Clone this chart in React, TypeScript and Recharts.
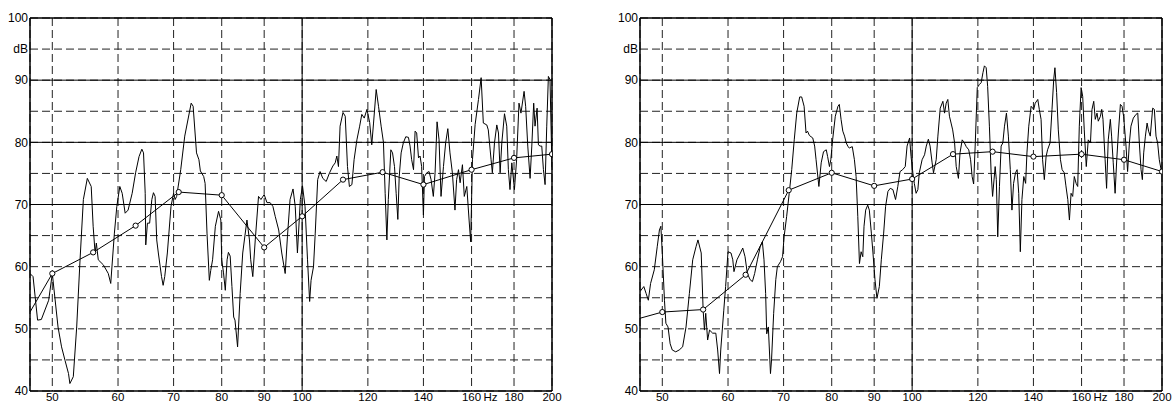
import { LineChart, Line, XAxis, YAxis, CartesianGrid, ReferenceLine } from 'recharts';

// narrow-band spectrum, left measurement [Hz, dB]
const leftSpectrum: [number, number][] = [
  [47.0, 58.9], [47.4, 58.4], [48.0, 51.4], [48.5, 51.5], [49.5, 54.6], [50.0, 58.9], [50.8, 50.3],
  [51.3, 47.1], [51.8, 44.9], [52.3, 42.8], [52.5, 41.2], [53.0, 42.3], [53.5, 50.3], [54.0, 61.1],
  [54.5, 70.8], [55.1, 74.2], [55.7, 72.9], [56.0, 66.5], [56.3, 62.2], [56.5, 63.8], [56.8, 61.1],
  [57.6, 60.3], [58.4, 58.9], [58.8, 57.3], [59.4, 65.4], [59.8, 69.7], [60.3, 72.9], [60.7, 71.8],
  [61.2, 68.6], [61.7, 69.1], [62.4, 71.8], [63.0, 75.1], [63.6, 77.7], [64.1, 78.9], [64.4, 78.3],
  [64.7, 71.8], [64.8, 63.5], [65.1, 67.0], [65.5, 67.0], [65.9, 70.8], [66.2, 71.9], [66.5, 71.3],
  [66.8, 64.3], [67.1, 62.2], [67.7, 58.4], [68.0, 57.0], [68.3, 58.4], [68.8, 62.2], [69.5, 69.7],
  [70.0, 71.8], [70.3, 70.8], [70.6, 71.3], [71.4, 75.6], [72.2, 81.0], [73.5, 86.3], [73.9, 85.8],
  [74.6, 78.3], [75.1, 77.2], [75.4, 75.4], [76.1, 74.5], [76.4, 73.4], [76.8, 65.4], [77.3, 57.8],
  [77.6, 59.4], [78.0, 61.1], [78.6, 66.5], [79.3, 68.9], [79.8, 67.5], [80.0, 61.1], [80.4, 59.0],
  [80.8, 56.2], [81.2, 61.1], [81.5, 62.3], [81.9, 61.7], [82.3, 56.8], [82.7, 51.9], [83.0, 51.4],
  [83.6, 47.1], [84.2, 55.7], [84.8, 62.2], [85.8, 67.5], [86.4, 64.3], [86.7, 61.1], [87.2, 58.4],
  [87.8, 64.3], [88.6, 71.3], [89.2, 70.8], [90.0, 71.6], [90.7, 70.3], [91.5, 70.3], [92.2, 69.7],
  [92.8, 68.1], [93.7, 65.9], [94.5, 62.2], [95.4, 58.9], [96.0, 64.8], [96.7, 70.8], [97.5, 72.5],
  [98.1, 69.7], [98.7, 62.2], [99.5, 70.8], [100.1, 73.0], [100.8, 69.7], [101.5, 61.1], [102.1, 54.4],
  [102.5, 57.8], [103.2, 60.0], [103.7, 65.4], [104.4, 74.0], [105.1, 75.3], [105.9, 74.2], [106.9, 73.7],
  [107.9, 75.1], [108.9, 76.2], [109.6, 76.7], [110.1, 77.8], [110.6, 76.1], [111.1, 82.6], [112.0, 84.8],
  [112.7, 84.2], [113.4, 76.1], [114.0, 72.9], [114.8, 73.2], [115.5, 77.2], [116.4, 80.4], [117.3, 82.6],
  [118.0, 84.5], [118.8, 83.9], [119.7, 85.3], [120.6, 83.2], [121.3, 79.6], [121.9, 83.1], [122.8, 88.5],
  [123.6, 85.8], [124.5, 82.6], [125.3, 80.0], [125.9, 71.8], [126.5, 64.3], [127.0, 70.8], [127.9, 78.8],
  [128.5, 78.3], [129.2, 76.1], [129.8, 71.8], [130.4, 67.6], [130.9, 74.5], [131.6, 78.3], [132.4, 79.9],
  [133.3, 80.9], [134.3, 80.8], [134.9, 79.4], [135.5, 77.2], [136.2, 75.6], [136.8, 81.8], [137.4, 81.5],
  [138.1, 77.5], [138.7, 77.8], [139.3, 76.1], [140.0, 68.3], [140.4, 74.5], [141.3, 75.1], [142.2, 75.3],
  [143.0, 74.0], [143.9, 71.3], [144.6, 75.1], [145.4, 83.3], [146.2, 80.4], [147.0, 71.3], [148.0, 76.1],
  [148.9, 79.9], [149.8, 82.2], [150.7, 78.3], [151.7, 75.1], [152.8, 69.1], [153.5, 74.0], [154.3, 75.6],
  [155.0, 73.5], [156.0, 76.4], [156.8, 71.3], [157.9, 72.9], [158.9, 67.5], [159.6, 64.0], [160.4, 77.2],
  [161.6, 82.9], [163.1, 86.9], [164.3, 90.4], [165.3, 83.1], [166.9, 82.8], [167.6, 82.0], [168.9, 77.2],
  [169.5, 75.1], [170.5, 79.9], [171.6, 82.8], [172.4, 81.5], [173.2, 75.1], [174.0, 79.9], [175.3, 84.6],
  [176.4, 82.6], [177.2, 75.6], [178.0, 72.4], [178.9, 76.7], [180.2, 72.4], [181.3, 77.2], [182.5, 86.3],
  [183.5, 84.7], [185.1, 88.2], [185.9, 85.8], [187.0, 79.4], [188.2, 74.2], [189.1, 79.4], [190.1, 86.3],
  [190.8, 82.6], [191.9, 85.5], [192.6, 79.6], [193.5, 79.4], [194.4, 79.4], [195.3, 75.6], [196.2, 73.2],
  [197.1, 82.6], [198.0, 90.6], [198.9, 90.1], [199.8, 78.3], [200.0, 76.0],
];

// narrow-band spectrum, right measurement [Hz, dB]
const rightSpectrum: [number, number][] = [
  [47.0, 56.0], [47.5, 56.8], [47.8, 55.7], [48.1, 54.6], [48.4, 57.3], [48.9, 59.5], [49.3, 63.2],
  [49.6, 65.9], [49.8, 66.5], [50.0, 62.2], [50.3, 54.6], [50.5, 50.9], [50.8, 50.3], [51.1, 47.6],
  [51.4, 46.6], [51.9, 46.3], [52.4, 46.6], [52.9, 47.1], [53.4, 50.3], [53.9, 55.7], [54.4, 61.1],
  [54.9, 63.2], [55.2, 64.3], [55.7, 62.2], [56.0, 53.0], [56.2, 49.8], [56.4, 52.5], [56.7, 48.2],
  [57.0, 49.8], [57.5, 49.3], [58.0, 49.3], [58.3, 46.6], [58.6, 42.8], [58.8, 46.6], [59.3, 53.0],
  [59.6, 56.8], [60.0, 62.4], [60.5, 62.2], [60.8, 61.1], [61.0, 59.2], [61.5, 61.1], [62.1, 62.2],
  [62.5, 63.0], [62.9, 61.6], [63.3, 58.9], [63.8, 57.9], [64.2, 57.6], [64.6, 58.9], [65.1, 61.1],
  [65.6, 63.2], [66.0, 64.0], [66.3, 61.1], [66.6, 55.7], [66.8, 49.2], [67.1, 50.3], [67.5, 42.8],
  [67.7, 45.0], [68.1, 52.5], [68.5, 57.9], [68.8, 60.0], [69.4, 60.8], [69.8, 61.6], [70.1, 64.8],
  [70.6, 68.1], [71.1, 71.8], [71.6, 75.6], [72.1, 80.4], [72.6, 84.7], [73.2, 87.3], [73.6, 87.3],
  [74.1, 85.8], [74.5, 81.5], [74.8, 81.8], [75.2, 81.1], [75.9, 80.7], [76.3, 79.4], [76.6, 77.2],
  [77.2, 72.9], [77.7, 76.7], [78.2, 78.5], [78.8, 78.8], [79.1, 77.7], [79.5, 76.1], [79.8, 77.2],
  [80.2, 80.4], [80.8, 84.2], [81.4, 85.8], [81.7, 86.1], [82.1, 83.7], [82.5, 81.8], [82.9, 81.0],
  [83.3, 79.9], [83.7, 79.3], [84.0, 79.1], [84.7, 79.3], [85.2, 77.2], [85.6, 74.5], [86.0, 68.1],
  [86.4, 60.5], [86.8, 62.4], [87.2, 61.6], [87.5, 66.5], [87.9, 69.1], [88.4, 69.9], [88.8, 69.1],
  [89.3, 65.4], [89.7, 62.2], [90.2, 57.9], [90.7, 54.9], [91.3, 56.8], [91.8, 61.1], [92.4, 65.4],
  [92.9, 69.7], [93.5, 72.1], [94.1, 72.6], [94.8, 72.4], [95.5, 70.8], [96.1, 72.9], [96.7, 75.3],
  [97.4, 75.6], [98.1, 76.1], [98.6, 79.4], [99.3, 80.7], [99.7, 77.7], [100.2, 75.1], [100.6, 73.4],
  [101.1, 71.8], [101.6, 72.4], [102.0, 75.1], [102.8, 77.2], [103.5, 78.0], [104.0, 79.4], [104.6, 80.5],
  [105.1, 79.4], [105.7, 76.7], [106.1, 75.1], [106.9, 77.2], [107.4, 81.0], [108.1, 85.5], [108.9, 86.6],
  [109.4, 84.7], [109.9, 86.3], [110.4, 86.9], [110.9, 84.2], [111.4, 83.1], [111.9, 82.0], [112.5, 79.9],
  [113.0, 76.1], [113.7, 74.2], [114.2, 78.3], [114.9, 80.4], [115.6, 79.9], [116.2, 79.3], [117.0, 78.8],
  [117.6, 77.2], [118.1, 74.5], [118.6, 73.3], [119.1, 79.4], [119.8, 88.8], [120.5, 89.3], [121.1, 89.6],
  [121.7, 91.2], [122.2, 92.3], [122.8, 92.0], [123.3, 89.0], [123.9, 82.6], [124.5, 75.1], [125.0, 71.3],
  [125.9, 76.1], [126.3, 74.0], [126.8, 64.8], [127.4, 72.9], [128.0, 79.4], [128.6, 79.9], [129.2, 82.6],
  [129.9, 84.7], [130.6, 81.0], [131.3, 75.6], [131.9, 69.1], [132.5, 73.4], [133.2, 75.1], [133.8, 75.6],
  [134.4, 71.8], [135.0, 62.4], [135.6, 70.8], [136.3, 74.5], [137.0, 73.4], [137.5, 78.3], [138.2, 82.6],
  [139.1, 85.8], [140.1, 85.3], [140.7, 86.3], [141.7, 86.9], [142.3, 85.3], [143.0, 83.7], [143.6, 77.2],
  [144.3, 74.0], [145.0, 77.7], [145.6, 78.8], [146.6, 79.9], [147.4, 85.3], [148.1, 90.1], [148.6, 92.0],
  [149.3, 88.0], [150.0, 82.0], [150.9, 77.2], [151.6, 75.6], [152.5, 75.1], [153.2, 73.0], [154.0, 70.8],
  [154.7, 67.5], [155.4, 71.8], [156.1, 71.3], [156.8, 74.5], [157.6, 73.4], [158.3, 72.9], [159.0, 82.6],
  [159.8, 88.8], [160.5, 87.4], [161.2, 82.0], [162.1, 76.1], [163.0, 80.4], [164.0, 79.9], [164.7, 85.3],
  [165.5, 86.6], [166.2, 83.7], [167.0, 84.7], [167.6, 83.4], [168.6, 84.2], [169.2, 85.3], [169.8, 83.7],
  [170.8, 77.2], [171.5, 72.6], [172.3, 80.4], [173.3, 83.7], [173.9, 81.0], [174.7, 76.7], [175.6, 71.8],
  [176.4, 77.2], [177.2, 81.5], [178.2, 86.1], [179.0, 85.8], [179.8, 84.2], [181.0, 79.4], [181.8, 75.3],
  [182.7, 79.9], [183.5, 82.6], [184.7, 83.9], [186.1, 84.5], [187.0, 84.7], [187.8, 79.9], [188.7, 75.6],
  [189.4, 74.0], [190.1, 78.3], [191.0, 81.0], [191.9, 83.1], [192.7, 81.8], [193.6, 81.0], [194.9, 85.5],
  [195.8, 85.3], [196.7, 81.0], [197.6, 79.9], [198.5, 77.2], [199.5, 75.6], [200.0, 75.3],
];

// third-octave band levels (first entry is where the line leaves the frame)
const bandHz = [47, 50, 56, 63, 71, 80, 90, 100, 112, 125, 140, 160, 180, 200];
const leftBandDb = [52.7, 58.9, 62.3, 66.6, 72.0, 71.5, 63.1, 68.1, 74.0, 75.2, 73.2, 75.6, 77.5, 78.1];
const rightBandDb = [51.7, 52.7, 53.1, 58.7, 72.3, 75.1, 73.0, 74.1, 78.1, 78.5, 77.7, 78.1, 77.2, 75.3];

const xTicks = [50, 60, 70, 80, 90, 100, 120, 140, 160, 180, 200];
const yTicks = [40, 45, 50, 55, 60, 65, 70, 75, 80, 85, 90, 95, 100];

const FONT = '"Liberation Sans", Arial, sans-serif';

const XTick = (props: any) => {
  const { x, y, payload } = props;
  const v = payload.value;
  return (
    <g>
      <text x={x} y={y} dy="0.71em" textAnchor="middle" fontSize={11.5} fontFamily={FONT} fill="#000">
        {v}
      </text>
      {v === 160 && (
        <text x={x + 12} y={y} dy="0.71em" textAnchor="start" fontSize={11.5} fontFamily={FONT} fill="#000">
          Hz
        </text>
      )}
    </g>
  );
};

const yLabel = (v: number) => (v === 95 ? 'dB' : v % 10 === 0 ? String(v) : '');

const BandDot = (props: any) => {
  const { cx, cy, payload } = props;
  if (payload.f < 49) return <g key={`d-${payload.f}`} />;
  return <circle key={`d-${payload.f}`} cx={cx} cy={cy} r={2.6} fill="#fff" stroke="#000" strokeWidth={1} />;
};

const Panel = ({ spectrum, bandDb, left }: { spectrum: [number, number][]; bandDb: number[]; left: number }) => {
  const specData = spectrum.map(([f, db]) => ({ f, db }));
  const bandData = bandHz.map((f, i) => ({ f, db: bandDb[i] }));
  return (
    <div style={{ position: 'absolute', left, top: 0 }}>
      <LineChart width={564} height={405} margin={{ top: 18, right: 12, bottom: 0, left: 0 }}>
        <CartesianGrid stroke="#222" strokeDasharray="8 4" strokeWidth={1} />
        <XAxis
          dataKey="f"
          type="number"
          scale="log"
          domain={[47, 200]}
          allowDataOverflow
          ticks={xTicks}
          interval={0}
          height={14}
          tickLine={false}
          tickSize={0}
          tickMargin={2}
          axisLine={{ stroke: '#000', strokeWidth: 1.5 }}
          tick={<XTick />}
        />
        <YAxis
          type="number"
          domain={[40, 100]}
          ticks={yTicks}
          interval={0}
          width={30}
          tickLine={false}
          tickSize={0}
          tickMargin={2}
          axisLine={{ stroke: '#000', strokeWidth: 1.5 }}
          tickFormatter={yLabel}
          tick={{ fontSize: 12, fontFamily: FONT, fill: '#000' }}
        />
        <ReferenceLine y={70} stroke="#000" strokeWidth={1} />
        <ReferenceLine y={80} stroke="#000" strokeWidth={1} />
        <ReferenceLine y={90} stroke="#000" strokeWidth={1} />
        <ReferenceLine y={100} stroke="#000" strokeWidth={1.5} />
        <ReferenceLine x={100} stroke="#000" strokeWidth={1} />
        <ReferenceLine x={200} stroke="#000" strokeWidth={1.5} />
        <Line
          data={specData}
          dataKey="db"
          type="linear"
          stroke="#000"
          strokeWidth={1}
          dot={false}
          isAnimationActive={false}
        />
        <Line
          data={bandData}
          dataKey="db"
          type="linear"
          stroke="#000"
          strokeWidth={1}
          dot={<BandDot />}
          isAnimationActive={false}
        />
      </LineChart>
    </div>
  );
}

export default function App() {
  return (
    <div style={{ position: 'absolute', left: 0, top: 0, width: 1175, height: 405, background: '#fff' }}>
      <Panel spectrum={leftSpectrum} bandDb={leftBandDb} left={0} />
      <Panel spectrum={rightSpectrum} bandDb={rightBandDb} left={610} />
    </div>
  );
}
